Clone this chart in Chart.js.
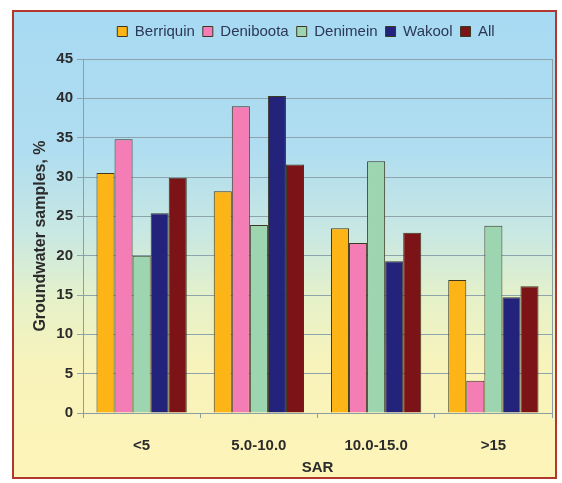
<!DOCTYPE html>
<html>
<head>
<meta charset="utf-8">
<script src="https://cdn.jsdelivr.net/npm/chart.js@4.4.1/dist/chart.umd.min.js"></script>
<style>
  html, body { margin: 0; padding: 0; background: #ffffff; }
  #wrap { position: relative; width: 562px; height: 483px; overflow: hidden; }
  #frame {
    position: absolute; left: 12px; top: 10px; width: 541px; height: 465px;
    border: 2px solid #b3372d;
    background: linear-gradient(to bottom, #a7daf3 0%, #b0ddf0 30%, #c9e8e2 48%, #e6f1c8 62%, #f8f3bb 76%, #fdf4b8 100%);
  }
  #sar { position: absolute; left: 0; top: 0; }
</style>
</head>
<body>
<div id="wrap">
  <div id="frame"></div>
  <canvas id="sar" width="562" height="483"></canvas>
</div>
<script>
const categories = ['<5', '5.0-10.0', '10.0-15.0', '>15'];
const berriquin = [30.5, 28.2, 23.5, 16.9];
const deniboota = [34.8, 39.0, 21.6, 4.1];
const denimein = [20.0, 23.9, 32.0, 23.8];
const wakool = [25.4, 40.3, 19.3, 14.7];
const allAreas = [29.9, 31.6, 22.9, 16.1];
const yMin = 0, yMax = 45, yStep = 5;

const fontFamily = '"Liberation Sans", Arial, sans-serif';
const barEdge = '#3b3823';

function series(label, data, color) {
    return {
        label: label,
        data: data,
        backgroundColor: color,
        borderColor: barEdge,
        borderWidth: 1,
        borderSkipped: 'bottom',
        categoryPercentage: 0.77,
        barPercentage: 1.0
    };
}

// más espacio bajo la leyenda, leyenda algo a la derecha y borde derecho del gráfico
const plotFrame = {
    id: 'plotFrame',
    afterInit(chart) {
        const legend = chart.legend;
        const fit = legend.fit.bind(legend);
        legend.fit = function () {
            fit();
            this.height += 10;
        };
    },
    afterLayout(chart) {
        chart.legend.left += 20;
        chart.legend.right += 20;
    },
    beforeDatasetsDraw(chart) {
        const { ctx, chartArea } = chart;
        ctx.save();
        ctx.strokeStyle = '#8b9ea4';
        ctx.lineWidth = 1;
        ctx.beginPath();
        ctx.moveTo(chartArea.right + 0.5, chartArea.top);
        ctx.lineTo(chartArea.right + 0.5, chartArea.bottom);
        ctx.stroke();
        ctx.restore();
    }
};

const ctx = document.getElementById('sar').getContext('2d');
new Chart(ctx, {
    type: 'bar',
    data: {
        labels: categories,
        datasets: [
            series('Berriquin', berriquin, '#fdb417'),
            series('Deniboota', deniboota, '#f47db5'),
            series('Denimein', denimein, '#9dd5b1'),
            series('Wakool', wakool, '#23237b'),
            series('All', allAreas, '#7c1417')
        ]
    },
    options: {
        responsive: false,
        animation: false,
        layout: {
            padding: { left: 20, right: 10, top: 16, bottom: 6 }
        },
        plugins: {
            legend: {
                position: 'top',
                labels: {
                    color: '#2c3856',
                    boxWidth: 10,
                    boxHeight: 10,
                    padding: 8,
                    font: { family: fontFamily, size: 15 }
                }
            },
            tooltip: { enabled: false }
        },
        scales: {
            x: {
                afterFit(scale) { scale.height = 64; },
                grid: {
                    offset: true,
                    drawOnChartArea: false,
                    tickLength: 5,
                    color: '#8b9ea4'
                },
                border: { color: '#8b9ea4' },
                ticks: {
                    color: '#2b2b2b',
                    padding: 19,
                    font: { family: fontFamily, size: 15, weight: 'bold' }
                },
                title: {
                    display: true,
                    text: 'SAR',
                    color: '#2b2b2b',
                    padding: { top: 0, bottom: 0 },
                    font: { family: fontFamily, size: 15, weight: 'bold' }
                }
            },
            y: {
                min: yMin,
                max: yMax,
                afterFit(scale) { scale.width = 63; },
                grid: {
                    color: '#8ea4ac',
                    tickLength: 6
                },
                border: { color: '#8b9ea4' },
                ticks: {
                    stepSize: yStep,
                    color: '#2b2b2b',
                    padding: 4,
                    font: { family: fontFamily, size: 15, weight: 'bold' }
                },
                title: {
                    display: true,
                    text: 'Groundwater samples, %',
                    color: '#2b2b2b',
                    padding: { top: 11, bottom: 0 },
                    font: { family: fontFamily, size: 16, weight: 'bold' }
                }
            }
        }
    },
    plugins: [plotFrame]
});
</script>
</body>
</html>
